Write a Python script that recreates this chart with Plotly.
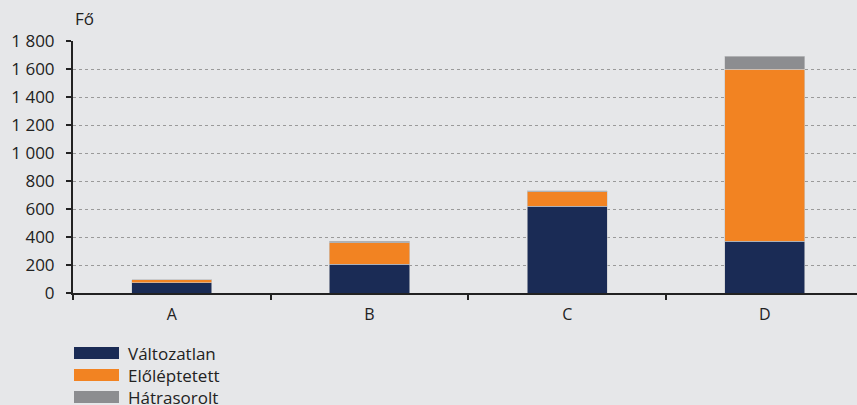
import plotly.graph_objects as go

categories = ["A", "B", "C", "D"]
valtozatlan = [73, 205, 621, 369]
eloleptetett = [20, 154, 103, 1229]
hatrasorolt = [2, 12, 7, 93]
series_names = ["Változatlan", "Előléptetett", "Hátrasorolt"]
colors = ["#1a2b55", "#f28322", "#8c8d90"]
y_ticks = [0, 200, 400, 600, 800, 1000, 1200, 1400, 1600, 1800]

BG = "#e6e7e9"
FONT = "Open Sans"
FS = 17

fig = go.Figure()
for name, vals, col in zip(series_names, [valtozatlan, eloleptetett, hatrasorolt], colors):
    fig.add_trace(go.Bar(x=categories, y=vals, name=name, marker_color=col,
                         marker_line=dict(color="#c8c9cc", width=0.6), width=0.405,
                         showlegend=False))

fig.update_layout(
    width=857, height=405, barmode="stack",
    paper_bgcolor=BG, plot_bgcolor=BG,
    margin=dict(l=73, r=0, t=41, b=112),
    font=dict(family=FONT, size=FS, color="#222222"),
    separators=". ",
)
fig.update_xaxes(type="category", range=[-0.5, 3.466], showline=True, linecolor="#222222",
                 linewidth=2, ticks="outside", tickson="boundaries", ticklen=5,
                 tickwidth=2, tickcolor="#222222", showgrid=False, tickfont=dict(size=16),
                 ticklabelstandoff=6)
fig.update_yaxes(range=[0, 1800], tickvals=y_ticks, tickformat=",d", showline=True,
                 linecolor="#222222", linewidth=2, ticks="outside", ticklen=5, tickwidth=2,
                 tickcolor="#222222", showgrid=True, gridcolor="#9a9a9a", griddash="dot",
                 gridwidth=1, zeroline=False, tickfont=dict(size=FS), ticklabelstandoff=8)

fig.add_annotation(text="Fő", xref="paper", yref="paper", x=0, y=1, xshift=0, yshift=9,
                   xanchor="left", yanchor="bottom", showarrow=False, font=dict(size=FS))

# custom legend
leg_y = [353, 375, 397]
for name, col, yc in zip(series_names, colors, leg_y):
    y0 = 1 - (yc - 6 - 41) / 252
    y1 = 1 - (yc + 6 - 41) / 252
    fig.add_shape(type="rect", xref="paper", yref="paper", x0=(74 - 73) / 784, x1=(119 - 73) / 784,
                  y0=y1, y1=y0, fillcolor=col, line=dict(width=0))
    fig.add_annotation(text=name, xref="paper", yref="paper", x=(126 - 73) / 784,
                       y=1 - (yc - 41) / 252, xanchor="left", yanchor="middle",
                       showarrow=False, font=dict(size=FS))

fig.write_html("out.html", config={"displayModeBar": False},
               post_script="document.body.style.margin='0';document.body.style.padding='0';"
                           "document.body.style.overflow='hidden';"
                           "document.documentElement.style.overflow='hidden';")
